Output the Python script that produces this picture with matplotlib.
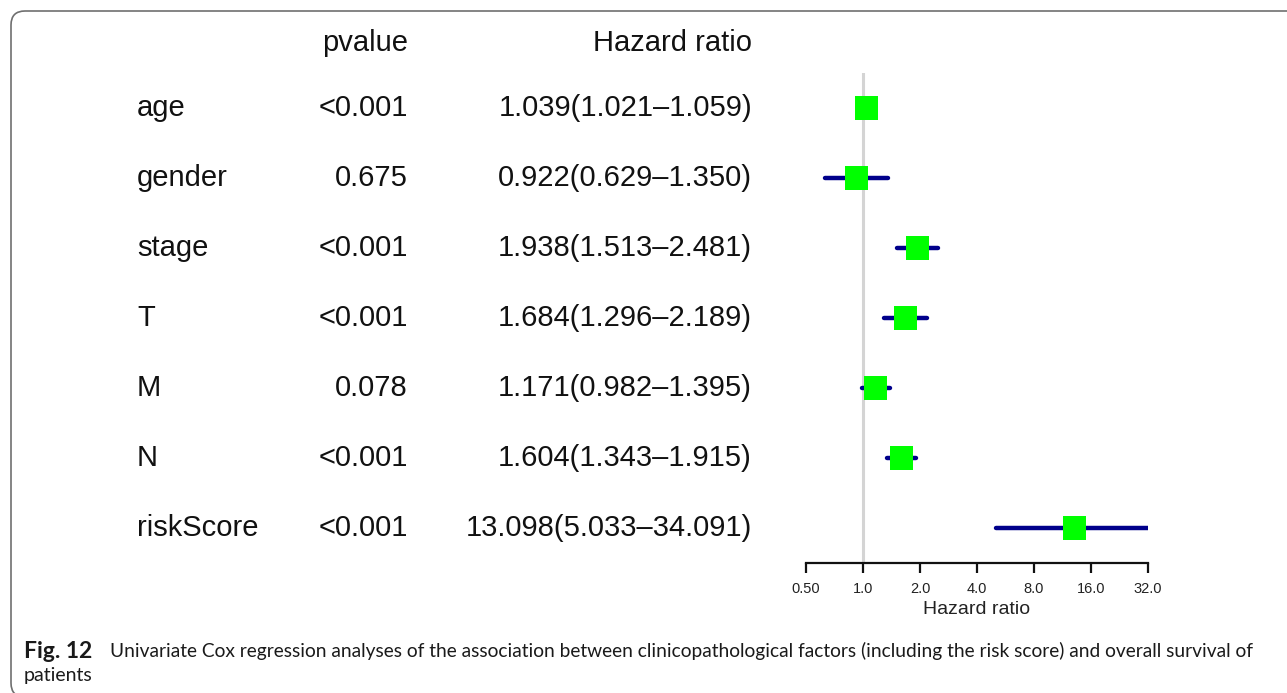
import matplotlib
matplotlib.use("Agg")
import matplotlib.pyplot as plt
import numpy as np
from matplotlib.patches import FancyBboxPatch
from matplotlib.ticker import NullLocator
from matplotlib.transforms import blended_transform_factory, IdentityTransform

# univariate Cox results
variables = ["age", "gender", "stage", "T", "M", "N", "riskScore"]
pvalues = ["<0.001", "0.675", "<0.001", "<0.001", "0.078", "<0.001", "<0.001"]
hr = [1.039, 0.922, 1.938, 1.684, 1.171, 1.604, 13.098]
hr_low = [1.021, 0.629, 1.513, 1.296, 0.982, 1.343, 5.033]
hr_high = [1.059, 1.350, 2.481, 2.189, 1.395, 1.915, 34.091]
xticks = [0.5, 1, 2, 4, 8, 16, 32]
xtick_labels = ["0.50", "1.0", "2.0", "4.0", "8.0", "16.0", "32.0"]

W, H = 1287, 693
fig = plt.figure(figsize=(W / 100, H / 100), dpi=100)
plt.rcParams["font.family"] = ["Liberation Sans", "DejaVu Sans"]


def fx(px):
    return px / W


def fy(py):
    return 1 - py / H


# forest panel
ax = fig.add_axes([fx(806), fy(563), fx(1148 - 806), (563 - 73) / H])
ax.set_xscale("log", base=2)
ax.set_xlim(0.5, 32)
rows = np.arange(len(variables))
ax.set_ylim(len(variables) - 0.5, -0.5)

ax.axvline(1, color="#d4d4d4", lw=2.2, zorder=1)
ax.hlines(rows, hr_low, hr_high, color="#00008b", lw=3.2, capstyle="round", zorder=2)
ax.scatter(hr, rows, marker="s", s=275, color="#00ff00", edgecolors="none", zorder=3)

for side in ["top", "right", "left"]:
    ax.spines[side].set_visible(False)
ax.spines["bottom"].set_linewidth(1.6)
ax.spines["bottom"].set_color("#111111")
ax.set_yticks([])
ax.set_xticks(xticks)
ax.set_xticklabels(xtick_labels, fontsize=10.5, color="#222222")
ax.xaxis.set_minor_locator(NullLocator())
ax.tick_params(axis="x", direction="out", length=7.5, width=1.6, color="#111111", pad=6)
ax.set_xlabel("Hazard ratio", fontsize=14, color="#222222", labelpad=4)

# table columns, rows share the forest y scale
trans = blended_transform_factory(fig.transFigure, ax.transData)
tsize = 21
tcolor = "#111111"
ax.text(fx(408), -0.93, "pvalue", transform=trans, ha="right", va="center",
        fontsize=tsize, color=tcolor, clip_on=False)
ax.text(fx(752), -0.93, "Hazard ratio", transform=trans, ha="right", va="center",
        fontsize=tsize, color=tcolor, clip_on=False)
for i in rows:
    ax.text(fx(137), i, variables[i], transform=trans, ha="left", va="center",
            fontsize=tsize, color=tcolor, clip_on=False)
    ax.text(fx(408), i, pvalues[i], transform=trans, ha="right", va="center",
            fontsize=tsize, color=tcolor, clip_on=False)
    label = f"{hr[i]:.3f}({hr_low[i]:.3f}\u2013{hr_high[i]:.3f})"
    ax.text(fx(752), i, label, transform=trans, ha="right", va="center",
            fontsize=tsize, color=tcolor, clip_on=False)

# rounded frame, open towards the right and bottom
frame = FancyBboxPatch((11, -4), 1400, H - 11 + 4,
                       boxstyle="round,pad=0,rounding_size=14",
                       transform=IdentityTransform(), fill=False,
                       edgecolor="#6f6f6f", lw=1.2)
fig.add_artist(frame)

# caption
cap_font = ["Lato", "DejaVu Sans"]
fig.text(fx(24), fy(651), "Fig. 12", fontsize=16.5, fontweight="bold",
         family=cap_font, color="#1a1a1a", va="center")
fig.text(fx(110), fy(651),
         "Univariate Cox regression analyses of the association between clinicopathological "
         "factors (including the risk score) and overall survival of",
         fontsize=13.8, family=cap_font, color="#1a1a1a", va="center")
fig.text(fx(24), fy(675), "patients", fontsize=14, family=cap_font,
         color="#1a1a1a", va="center")

fig.savefig("out.png", dpi=100)
